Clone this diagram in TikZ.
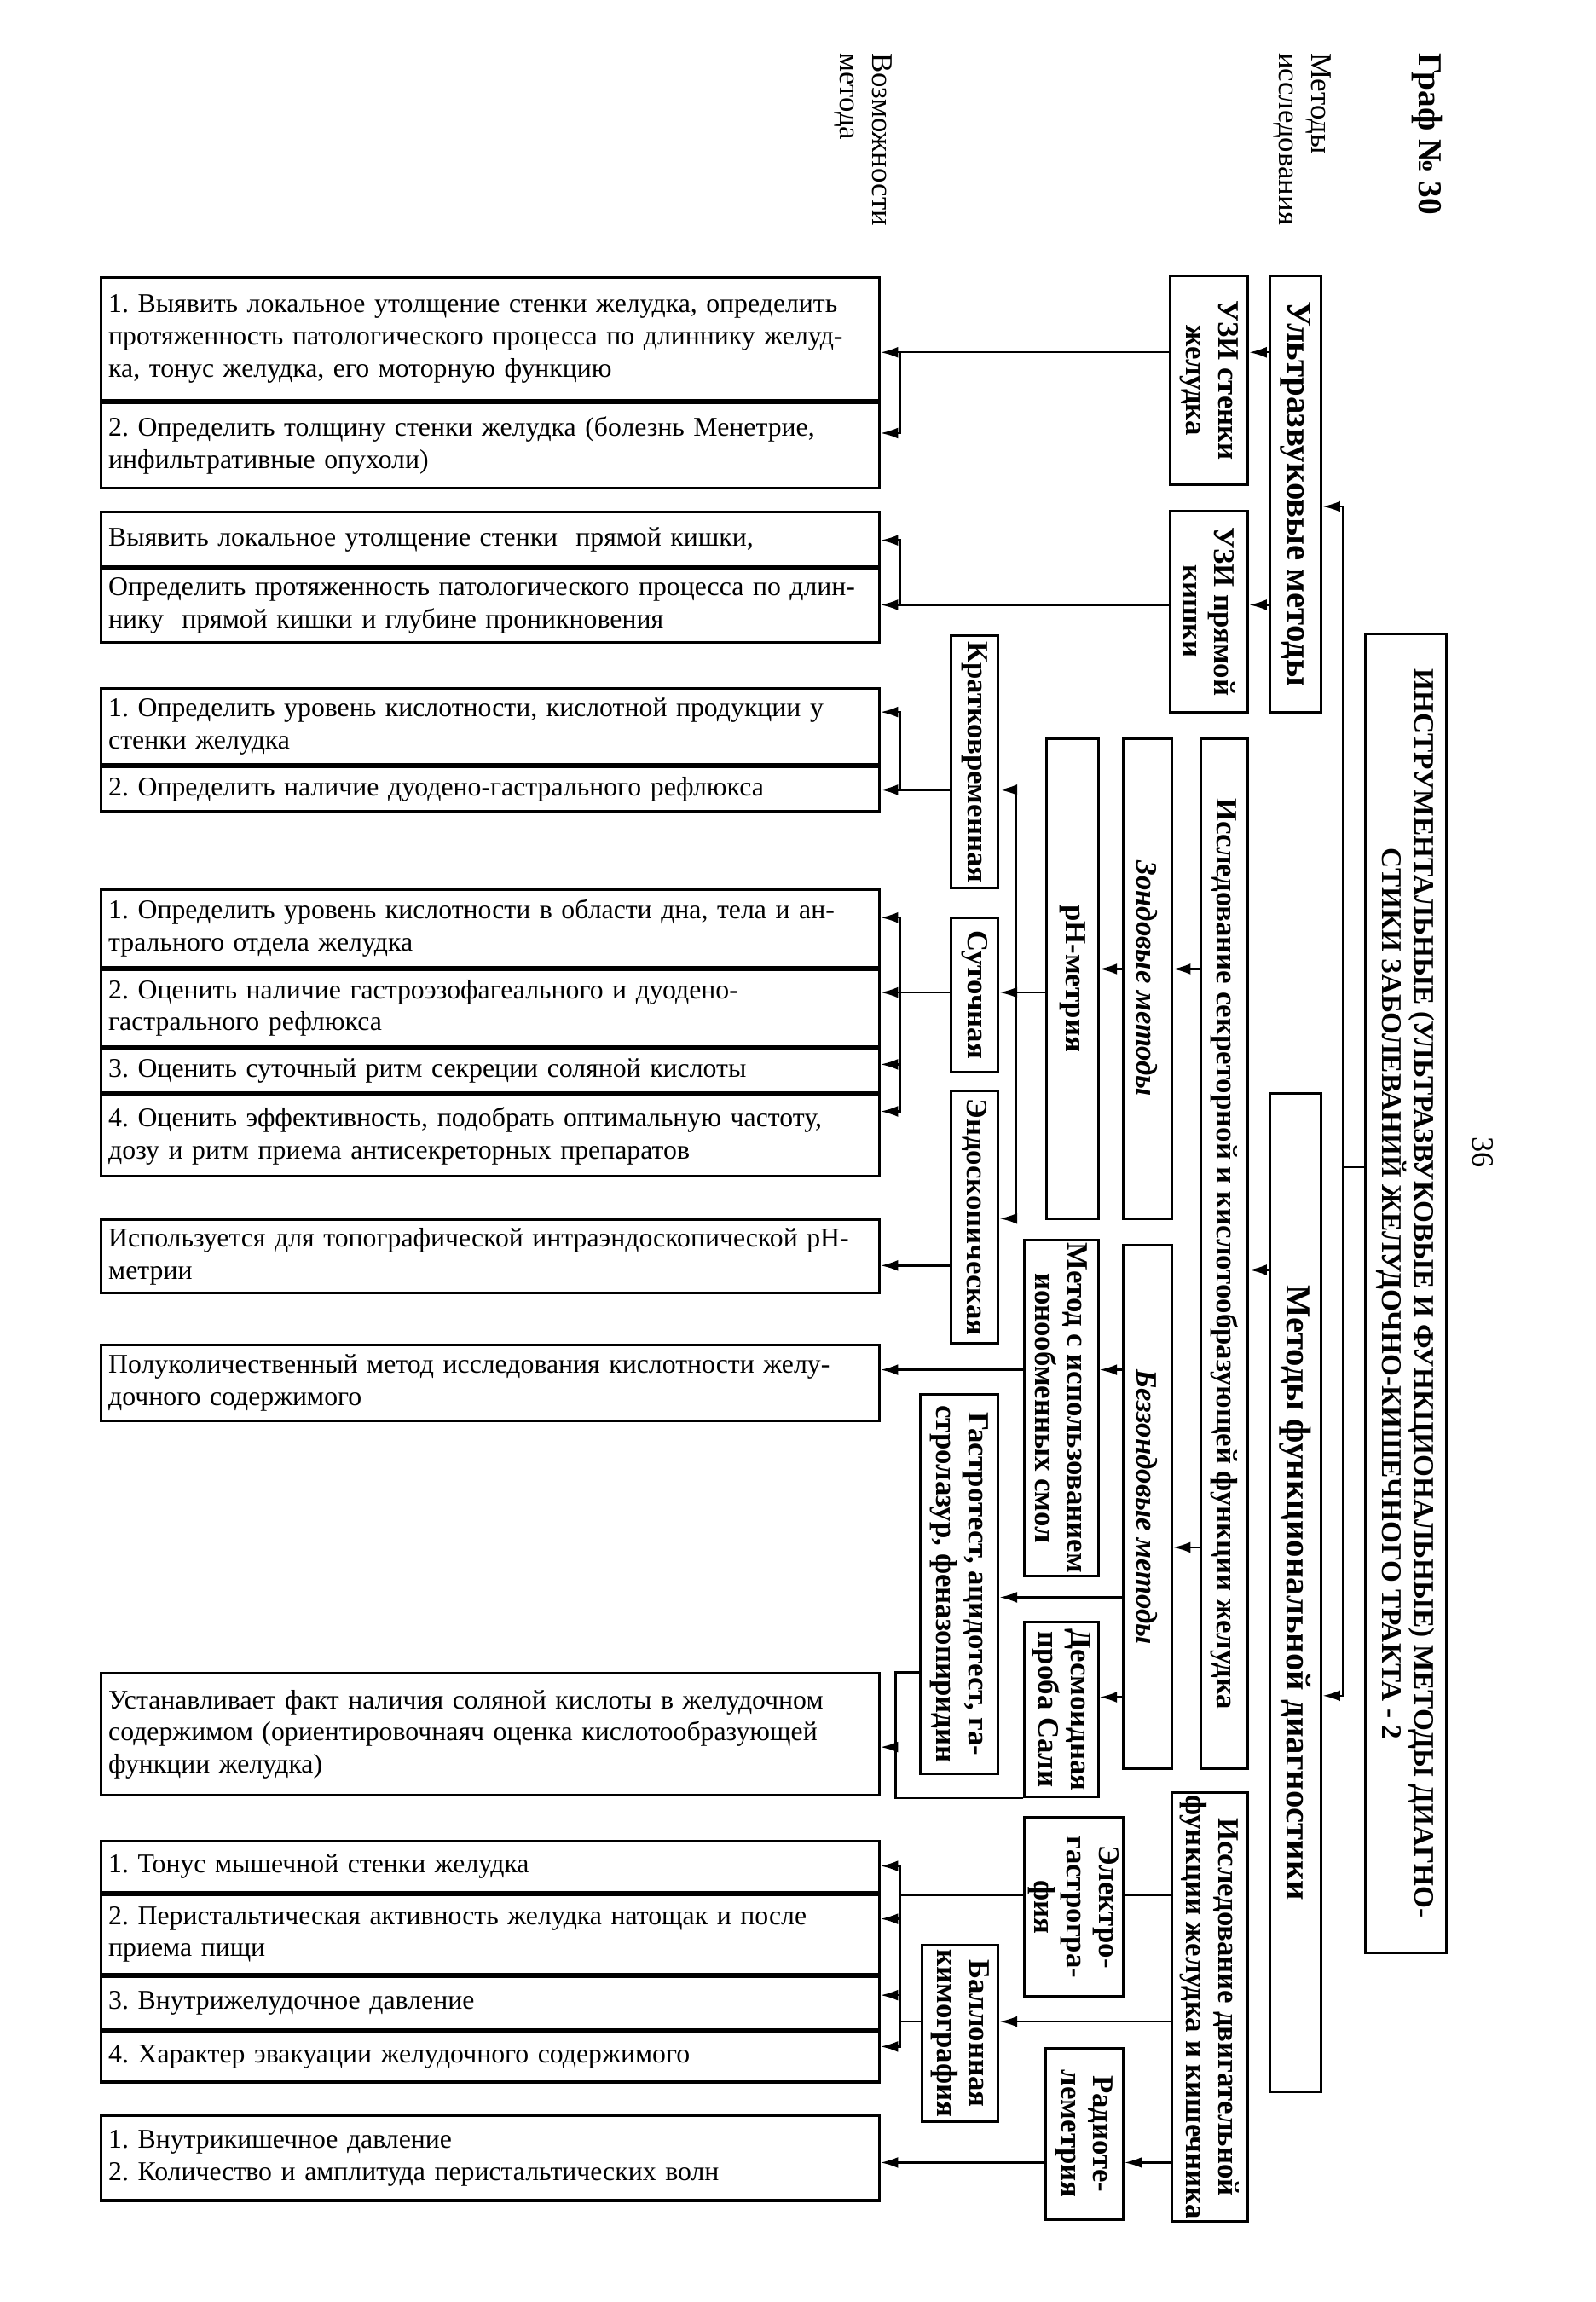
\documentclass[tikz,border=0pt]{standalone}
\usepackage{fontspec}
\setmainfont{Liberation Serif}
\usepackage{tikz}
\usetikzlibrary{arrows.meta, positioning}
\frenchspacing

\begin{document}
\begin{tikzpicture}[
    x=0.2mm, y=-0.2mm,
    method box/.style 2 args = {
        rectangle,
        draw=black,
        line width=1pt,
        rotate=-90,
        minimum width=#1*0.2mm,
        minimum height=#2*0.2mm,
        inner sep=1pt,
        align=center,
        font=\fontsize{11.5}{12.5}\selectfont\bfseries
    },
    result box/.style = {
        rectangle,
        draw=black,
        line width=1pt,
        anchor=north west,
        minimum width=106mm,
        minimum height=#1*0.2mm,
        text width=104mm,
        inner xsep=2pt, inner ysep=0pt,
        align=left,
        font=\fontsize{10.5}{12.5}\selectfont
    },
    side label/.style = {
        rotate=-90,
        anchor=west,
        align=left,
        font=\fontsize{11.5}{12.5}\selectfont
    },
    link/.style = {line width=0.8pt},
    arrow/.style = {link, -{Latex[length=2.4mm,width=1.5mm]}}
]
\useasboundingbox (0,0) rectangle (1087,1568);

\node[side label, font=\fontsize{13}{15}\selectfont\bfseries] (graph) at (972,30) {Граф № 30};
\node[side label] (methods) at (887,30) {Методы\\исследования};
\node[side label] (abilities) at (588,30) {Возможности\\метода};
\node[rotate=-90, font=\fontsize{12}{14}\selectfont] (page) at (1010,785) {36};

\node[method box={898}{55}, font=\fontsize{11}{12.5}\selectfont\bfseries] (main) at (957.5,881)
    {ИНСТРУМЕНТАЛЬНЫЕ (УЛЬТРАЗВУКОВЫЕ И ФУНКЦИОНАЛЬНЫЕ) МЕТОДЫ ДИАГНО-\\СТИКИ ЗАБОЛЕВАНИЙ ЖЕЛУДОЧНО-КИШЕЧНОГО ТРАКТА - 2};
\node[method box={297}{35}, font=\fontsize{13.5}{15}\selectfont\bfseries] (ultra) at (882.5,336.5) {Ультразвуковые методы};
\node[method box={680}{35}, font=\fontsize{13.5}{15}\selectfont\bfseries] (func) at (882.5,1085) {Методы функциональной диагностики};

\node[method box={142}{53}] (uziwall) at (823.5,259) {УЗИ стенки\\желудка};
\node[method box={137}{53}] (uzirect) at (823.5,416.5) {УЗИ прямой\\кишки};
\node[method box={702}{32}] (secr) at (834,854) {Исследование секреторной и кислотообразующей функции желудка};
\node[method box={327}{33}, font=\fontsize{11.5}{12.5}\selectfont\bfseries\itshape] (probe) at (781.5,666.5) {Зондовые методы};
\node[method box={327}{35}] (phm) at (730.5,666.5) {pH-метрия};
\node[method box={172}{32}] (short) at (664,519) {Кратковременная};
\node[method box={105}{32}] (daily) at (664,677.5) {Суточная};
\node[method box={172}{32}] (endo) at (664,829) {Эндоскопическая};
\node[method box={357}{33}, font=\fontsize{11.5}{12.5}\selectfont\bfseries\itshape] (noprobe) at (781.5,1026.5) {Беззондовые методы};
\node[method box={222}{50}] (resin) at (723,959) {Метод с использованием\\ионообменных смол};
\node[method box={119}{50}] (sahli) at (723,1164.5) {Десмоидная\\проба Сали};
\node[method box={258}{53}] (gtest) at (653.5,1079) {Гастротест, ацидотест, га-\\стролазур, феназопиридин};
\node[method box={290}{52}] (motor) at (824,1367) {Исследование двигательной\\функции желудка и кишечника};
\node[method box={122}{67}] (egg) at (731.5,1299) {Электро-\\гастрогра-\\фия};
\node[method box={120}{52}] (kymo) at (654,1385) {Баллонная\\кимография};
\node[method box={117}{53}] (radio) at (738.5,1453.5) {Радиоте-\\леметрия};

\node[result box=84] (wall1) at (68,188) {1. Выявить локальное утолщение стенки желудка, определить\\протяженность патологического процесса по длиннику желуд-\\ка, тонус желудка, его моторную функцию};
\node[result box=58, below=0pt of wall1] (wall2) {2. Определить толщину стенки желудка (болезнь Менетрие,\\инфильтративные опухоли)};
\node[result box=37] (rect1) at (68,348) {Выявить локальное утолщение стенки\ \ прямой кишки,};
\node[result box=50, below=0pt of rect1] (rect2) {Определить протяженность патологического процесса по длин-\\нику\ \ прямой кишки и глубине проникновения};
\node[result box=52] (short1) at (68,468) {1. Определить уровень кислотности, кислотной продукции у\\стенки желудка};
\node[result box=30, below=0pt of short1] (short2) {2. Определить наличие дуодено-гастрального рефлюкса};
\node[result box=53] (daily1) at (68,605) {1. Определить уровень кислотности в области дна, тела и ан-\\трального отдела желудка};
\node[result box=52, below=0pt of daily1] (daily2) {2. Оценить наличие гастроэзофагеального и дуодено-\\гастрального рефлюкса};
\node[result box=30, below=0pt of daily2] (daily3) {3. Оценить суточный ритм секреции соляной кислоты};
\node[result box=55, below=0pt of daily3] (daily4) {4. Оценить эффективность, подобрать оптимальную частоту,\\дозу и ритм приема антисекреторных препаратов};
\node[result box=50] (endo1) at (68,830) {Используется для топографической интраэндоскопической pH-\\метрии};
\node[result box=52] (resin1) at (68,915) {Полуколичественный метод исследования кислотности желу-\\дочного содержимого};
\node[result box=83] (test1) at (68,1139) {Устанавливает факт наличия соляной кислоты в желудочном\\содержимом (ориентировочнаяч оценка кислотообразующей\\функции желудка)};
\node[result box=35] (motor1) at (68,1253) {1. Тонус мышечной стенки желудка};
\node[result box=54, below=0pt of motor1] (motor2) {2. Перистальтическая активность желудка натощак и после\\приема пищи};
\node[result box=36, below=0pt of motor2] (motor3) {3. Внутрижелудочное давление};
\node[result box=34, below=0pt of motor3] (motor4) {4. Характер эвакуации желудочного содержимого};
\node[result box=58] (radio1) at (68,1440) {1. Внутрикишечное давление\\2. Количество и амплитуда перистальтических волн};

\coordinate (trunk) at (915,795);
\draw[link] (main.south |- trunk) -- (trunk);
\draw[arrow] (trunk) |- (ultra.north |- 0,345);
\draw[arrow] (trunk) |- (func.north |- 0,1155);

\draw[arrow] (ultra.south |- 0,240) -- (uziwall.north |- 0,240);
\draw[arrow] (ultra.south |- 0,412) -- (uzirect.north |- 0,412);
\coordinate (wall fork) at (613,240);
\coordinate (rect fork) at (613,412);
\draw[arrow] (uziwall.south |- wall fork) -- (wall1.east |- wall fork);
\draw[arrow] (wall fork) |- (wall2.east |- 0,295);
\draw[arrow] (uzirect.south |- rect fork) -- (rect2.east |- rect fork);
\draw[arrow] (rect fork) |- (rect1.east |- 0,368);

\draw[arrow] (func.south |- 0,865) -- (secr.north |- 0,865);
\draw[arrow] (secr.south |- 0,660) -- (probe.north |- 0,660);
\draw[arrow] (probe.south |- 0,660) -- (phm.north |- 0,660);
\coordinate (ph fork) at (692,676);
\draw[link] (phm.south |- ph fork) -- (ph fork);
\draw[arrow] (ph fork) |- (short.north |- 0,538);
\draw[arrow] (ph fork) -- (daily.north |- ph fork);
\draw[arrow] (ph fork) |- (endo.north |- 0,830);

\coordinate (short fork) at (613,538);
\draw[arrow] (short.south |- short fork) -- (short2.east |- short fork);
\draw[arrow] (short fork) |- (short1.east |- 0,485);
\coordinate (daily fork) at (613,676);
\draw[arrow] (daily.south |- daily fork) -- (daily2.east |- daily fork);
\draw[arrow] (daily fork) |- (daily1.east |- 0,625);
\draw[arrow] (daily fork) |- (daily3.east |- 0,725);
\draw[arrow] (daily fork) |- (daily4.east |- 0,757);
\draw[arrow] (endo.south |- 0,862) -- (endo1.east |- 0,862);

\draw[arrow] (secr.south |- 0,1054) -- (noprobe.north |- 0,1054);
\draw[arrow] (noprobe.south |- 0,933) -- (resin.north |- 0,933);
\draw[arrow] (resin.south |- 0,933) -- (resin1.east |- 0,933);
\draw[arrow] (noprobe.south |- 0,1088) -- (gtest.north |- 0,1088);
\draw[arrow] (noprobe.south |- 0,1156) -- (sahli.north |- 0,1156);
\coordinate (test fork) at (610,1190);
\draw[link] (gtest.south |- 0,1139) -| (test fork);
\draw[link] (sahli.south east) -| (test fork);
\draw[arrow] (test fork) -- (test1.east |- test fork);

\coordinate (motor fork) at (613,1291);
\draw[link] (motor.south |- motor fork) -- (egg.north |- motor fork);
\draw[link] (egg.south |- motor fork) -- (motor fork);
\draw[arrow] (motor fork) |- (motor1.east |- 0,1271);
\draw[arrow] (motor fork) |- (motor2.east |- 0,1307);
\draw[arrow] (motor fork) |- (motor3.east |- 0,1359);
\draw[arrow] (motor fork) |- (motor4.east |- 0,1394);
\draw[arrow] (motor.south |- 0,1377) -- (kymo.north |- 0,1377);
\draw[link] (kymo.south |- 0,1377) -- (motor fork |- 0,1377);
\draw[arrow] (motor.south |- 0,1473) -- (radio.north |- 0,1473);
\draw[arrow] (radio.south |- 0,1473) -- (radio1.east |- 0,1473);

\end{tikzpicture}
\end{document}
